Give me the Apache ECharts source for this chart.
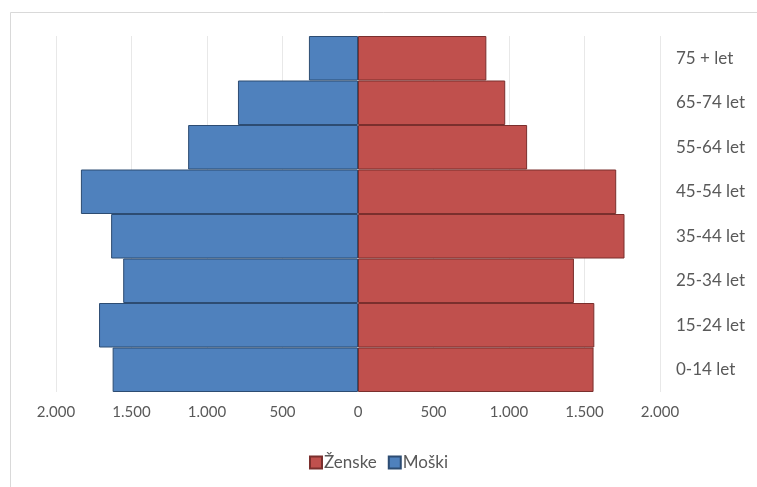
<!DOCTYPE html>
<html>
<head>
<meta charset="utf-8">
<script src="https://cdn.jsdelivr.net/npm/echarts@6/dist/echarts.min.js"></script>
<style>
  html, body { margin: 0; padding: 0; background: #fff; }
  #chart { width: 757px; height: 487px; }
</style>
</head>
<body>
<div id="chart"></div>
<script>
// Age groups, bottom to top
const ageGroups = ['0-14 let', '15-24 let', '25-34 let', '35-44 let', '45-54 let', '55-64 let', '65-74 let', '75 + let'];
// Population by sex per age group
const moski = [1625, 1715, 1555, 1635, 1835, 1125, 795, 325];
const zenske = [1560, 1565, 1430, 1765, 1710, 1120, 975, 850];
// Axis ticks
const axisMin = -2000;
const axisMax = 2000;
const axisStep = 500;

const fontFamily = 'Lato, "Open Sans", sans-serif';
const textColor = '#595959';

function formatThousands(v) {
  const n = Math.abs(v);
  return n >= 1000 ? Math.floor(n / 1000) + '.' + String(n % 1000).padStart(3, '0') : String(n);
}

const chart = echarts.init(document.getElementById('chart'));
chart.setOption({
  animation: false,
  backgroundColor: '#fff',
  graphic: [{
    type: 'polyline',
    shape: { points: [[10.5, 487], [10.5, 12.5], [757, 12.5]] },
    style: { stroke: '#d9d9d9', lineWidth: 1, fill: null },
    silent: true
  }],
  legend: {
    bottom: 11,
    left: 'center',
    itemWidth: 12,
    itemHeight: 12,
    itemGap: 11,
    icon: 'rect',
    textStyle: { color: textColor, fontSize: 17, fontFamily: fontFamily, padding: [0, 0, 0, -3] },
    data: ['Ženske', 'Moški']
  },
  grid: { left: 56, right: 97, top: 36, bottom: 95, containLabel: false },
  xAxis: {
    type: 'value',
    min: axisMin,
    max: axisMax,
    interval: axisStep,
    axisLine: { show: false },
    axisTick: { show: false },
    axisLabel: {
      color: textColor,
      fontSize: 15,
      fontFamily: fontFamily,
      margin: 13,
      formatter: formatThousands
    },
    splitLine: { show: true, lineStyle: { color: '#e8e8e8', width: 1 } }
  },
  yAxis: {
    type: 'category',
    position: 'right',
    data: ageGroups,
    axisLine: { show: false },
    axisTick: { show: false },
    axisLabel: {
      color: textColor,
      fontSize: 17,
      fontFamily: fontFamily,
      margin: 16,
      align: 'left'
    }
  },
  series: [
    {
      name: 'Moški',
      type: 'bar',
      stack: 'pop',
      barCategoryGap: 0,
      data: moski.map(v => -v),
      itemStyle: { color: '#4F81BD', borderColor: '#2D4C72', borderWidth: 1 }
    },
    {
      name: 'Ženske',
      type: 'bar',
      stack: 'pop',
      barCategoryGap: 0,
      data: zenske,
      itemStyle: { color: '#C0504D', borderColor: '#7A2F2D', borderWidth: 1 }
    }
  ]
});
</script>
</body>
</html>
